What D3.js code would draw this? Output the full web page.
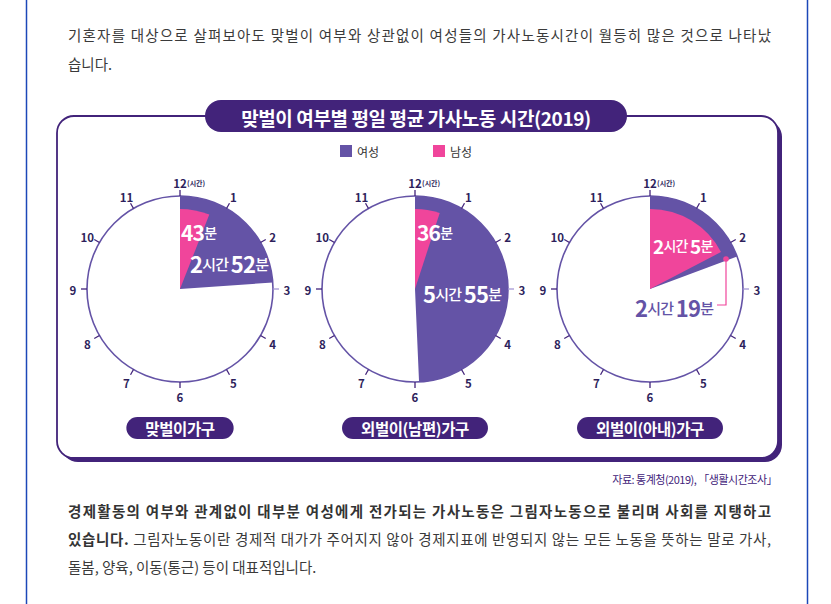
<!DOCTYPE html>
<html>
<head>
<meta charset="utf-8">
<script src="https://cdn.jsdelivr.net/npm/d3@7"></script>
<style>
  body { margin: 0; background: #fff; }
  svg text { font-family: "Noto Sans CJK KR", "Noto Sans", sans-serif; }
</style>
</head>
<body>
<div id="chart"></div>
<script>
// data
const households = ['맞벌이가구', '외벌이(남편)가구', '외벌이(아내)가구'];
const womenMinutes = [172, 355, 139];
const menMinutes = [43, 36, 125];
const hourLabels = [12, 1, 2, 3, 4, 5, 6, 7, 8, 9, 10, 11];
const legendItems = ['여성', '남성'];

const introLines = [
  '기혼자를 대상으로 살펴보아도 맞벌이 여부와 상관없이 여성들의 가사노동시간이 월등히 많은 것으로 나타났',
  '습니다.'
];
const outroBold = '경제활동의 여부와 관계없이 대부분 여성에게 전가되는 가사노동은 그림자노동으로 불리며 사회를 지탱하고';
const outroLine2Bold = '있습니다.';
const outroLine2 = ' 그림자노동이란 경제적 대가가 주어지지 않아 경제지표에 반영되지 않는 모든 노동을 뜻하는 말로 가사,';
const outroLine3 = '돌봄, 양육, 이동(통근) 등이 대표적입니다.';

const W = 831, H = 604;
const purple = '#6453a6', pink = '#f0459b', dark = '#42237a', textCol = '#3a3a3a';

const svg = d3.select('#chart').append('svg')
  .attr('width', W).attr('height', H);

// page frame lines
svg.append('line').attr('x1', 26.5).attr('x2', 26.5).attr('y1', 0).attr('y2', H)
  .attr('stroke', '#1c47b8').attr('stroke-width', 1.5);
svg.append('line').attr('x1', 807.5).attr('x2', 807.5).attr('y1', 0).attr('y2', H)
  .attr('stroke', '#1c47b8').attr('stroke-width', 1.5);

// intro text
svg.append('text').attr('x', 68).attr('y', 41).attr('font-size', 14.5).attr('fill', textCol)
  .attr('textLength', 703).attr('lengthAdjust', 'spacing').text(introLines[0]);
svg.append('text').attr('x', 68).attr('y', 70).attr('font-size', 14.5).attr('fill', textCol)
  .text(introLines[1]);

// panel: shadow (thick right/bottom) then thin frame
const panel = { x: 57, y: 116, w: 721, h: 342, r: 17 };
svg.append('rect')
  .attr('x', panel.x + 4).attr('y', panel.y + 4).attr('width', panel.w).attr('height', panel.h)
  .attr('rx', panel.r).attr('fill', dark);
svg.append('rect')
  .attr('x', panel.x).attr('y', panel.y).attr('width', panel.w).attr('height', panel.h)
  .attr('rx', panel.r).attr('fill', '#fff').attr('stroke', dark).attr('stroke-width', 1.8);

// title pill
svg.append('rect').attr('x', 205).attr('y', 100).attr('width', 422).attr('height', 32)
  .attr('rx', 16).attr('fill', dark);
svg.append('text').attr('x', 416).attr('y', 117).attr('text-anchor', 'middle')
  .attr('dominant-baseline', 'central').attr('fill', '#fff')
  .attr('font-size', 19).attr('font-weight', 700).attr('letter-spacing', -0.4)
  .text('맞벌이 여부별 평일 평균 가사노동 시간(2019)');

// legend
const legendX = d3.scalePoint().domain(legendItems).range([340, 433]);
const legendColor = d3.scaleOrdinal().domain(legendItems).range([purple, pink]);
const lg = svg.append('g').selectAll('g').data(legendItems).join('g')
  .attr('transform', d => `translate(${legendX(d)},145)`);
lg.append('rect').attr('width', 12).attr('height', 12).attr('fill', d => legendColor(d));
lg.append('text').attr('x', 17).attr('y', 6).attr('dominant-baseline', 'central')
  .attr('font-size', 12).attr('fill', '#333').text(d => d);

// clocks
const R = 93, rPink = 80;
const angle = d3.scaleLinear().domain([0, 720]).range([0, 2 * Math.PI]);
const hourAngle = d3.scaleLinear().domain([0, 12]).range([0, 2 * Math.PI]);
const cx = d3.scalePoint().domain(households).range([180, 650]);
const cy = 289;

const arc = d3.arc().innerRadius(0).startAngle(0);

function fmt(min) {
  const h = Math.floor(min / 60), m = min % 60;
  const parts = [];
  if (h > 0) parts.push([String(h), true], ['시간', false], [' ', false]);
  parts.push([String(m), true], ['분', false]);
  return parts;
}

function label(g, x, y, min, color, big, small) {
  const t = g.append('text').attr('x', x).attr('y', y)
    .attr('dominant-baseline', 'central').attr('fill', color)
    .attr('font-weight', 700).attr('letter-spacing', -0.8);
  fmt(min).forEach(([s, isNum]) => {
    t.append('tspan').attr('font-size', isNum ? big : small)
      .attr('font-weight', isNum ? 700 : 500)
      .text(s);
  });
  return t;
}

// label layout per clock (offsets from centre)
const menLabelPos = [[1, -57], [2, -57], [3, -44]];
const womenLabelPos = [[10, -26], [8, 4], [-15, 18]];

households.forEach((name, i) => {
  const g = svg.append('g').attr('transform', `translate(${cx(name)},${cy})`);

  g.append('circle').attr('r', R).attr('fill', '#fff')
    .attr('stroke', purple).attr('stroke-width', 1.6);

  g.append('path').attr('fill', purple)
    .attr('d', arc.outerRadius(R).endAngle(angle(womenMinutes[i]))());
  g.append('path').attr('fill', pink)
    .attr('d', arc.outerRadius(rPink).endAngle(angle(menMinutes[i]))());

  // hour ticks
  const ticks = g.append('g').selectAll('g').data(hourLabels).join('g');
  ticks.append('line')
    .attr('x1', (d, k) => Math.sin(hourAngle(k)) * R)
    .attr('y1', (d, k) => -Math.cos(hourAngle(k)) * R)
    .attr('x2', (d, k) => Math.sin(hourAngle(k)) * (R + 6))
    .attr('y2', (d, k) => -Math.cos(hourAngle(k)) * (R + 6))
    .attr('stroke', (d, k) => k === 3 ? '#a597d4' : dark).attr('stroke-width', 1.3);
  ticks.append('text')
    .attr('x', (d, k) => Math.sin(hourAngle(k)) * (R + 14))
    .attr('y', (d, k) => -Math.cos(hourAngle(k)) * (R + 14) + 1)
    .attr('text-anchor', 'middle').attr('dominant-baseline', 'central')
    .attr('font-size', 11.5).attr('font-weight', 700).attr('fill', '#2e1f5c')
    .text(d => d);
  // "(시간)" next to 12
  g.append('text').attr('x', 7).attr('y', -R - 13).attr('dominant-baseline', 'central')
    .attr('font-size', 7).attr('font-weight', 700).attr('fill', '#2e1f5c').text('(시간)');

  // value labels
  label(g, menLabelPos[i][0], menLabelPos[i][1], menMinutes[i], '#fff', i === 2 ? 19 : 21, 14);
  if (i < 2) {
    label(g, womenLabelPos[i][0], womenLabelPos[i][1], womenMinutes[i], '#fff', 22, 15);
  } else {
    label(g, womenLabelPos[i][0], womenLabelPos[i][1], womenMinutes[i], purple, 22, 15);
    // leader from the purple wedge to its label
    const lp = d3.path();
    lp.moveTo(76, -30); lp.lineTo(76, 16); lp.lineTo(67, 16);
    g.append('path').attr('d', lp.toString()).attr('fill', 'none')
      .attr('stroke', pink).attr('stroke-width', 1.2);
    g.append('circle').attr('cx', 76).attr('cy', -30).attr('r', 2.8).attr('fill', pink);
  }

  // household pill
  const pill = g.append('g').attr('transform', `translate(0,${428 - cy})`);
  const txt = pill.append('text').attr('text-anchor', 'middle').attr('dominant-baseline', 'central')
    .attr('fill', '#fff').attr('font-size', 15.5).attr('font-weight', 700).attr('letter-spacing', -0.4)
    .text(name);
  const bw = txt.node().getComputedTextLength() + 38;
  pill.insert('rect', 'text').attr('x', -bw / 2).attr('y', -11).attr('width', bw).attr('height', 22)
    .attr('rx', 11).attr('fill', dark);
});

// source
svg.append('text').attr('x', 777).attr('y', 479).attr('text-anchor', 'end')
  .attr('dominant-baseline', 'central').attr('font-size', 11).attr('fill', dark)
  .attr('letter-spacing', -0.5)
  .text('자료: 통계청(2019), 「생활시간조사」');

// outro
svg.append('text').attr('x', 68).attr('y', 517).attr('font-size', 14.5).attr('font-weight', 700)
  .attr('fill', '#333').attr('textLength', 703).attr('lengthAdjust', 'spacing').text(outroBold);
const l2 = svg.append('text').attr('x', 68).attr('y', 545).attr('font-size', 14.5).attr('fill', textCol)
  .attr('textLength', 703).attr('lengthAdjust', 'spacing');
l2.append('tspan').attr('font-weight', 700).attr('fill', '#333').text(outroLine2Bold);
l2.append('tspan').text(outroLine2);
svg.append('text').attr('x', 68).attr('y', 573).attr('font-size', 14.5).attr('fill', textCol)
  .text(outroLine3);
</script>
</body>
</html>
